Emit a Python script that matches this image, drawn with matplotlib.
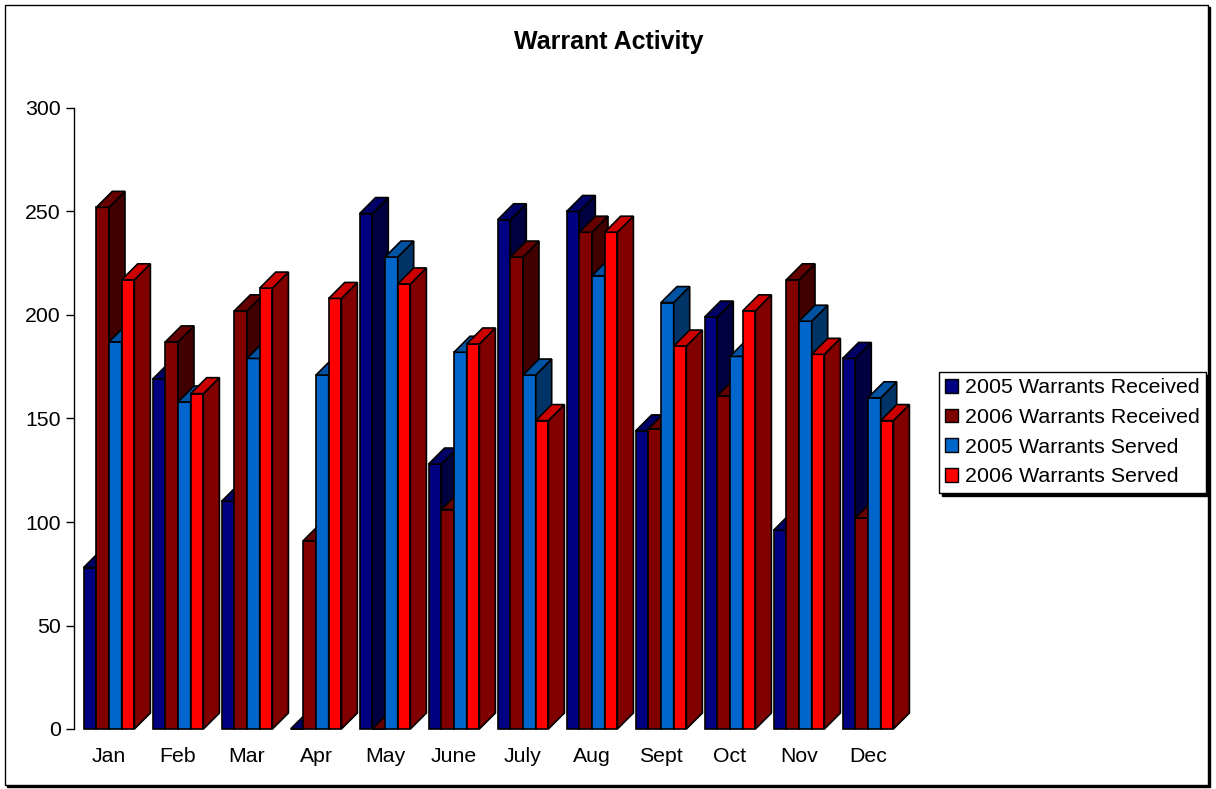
import matplotlib
matplotlib.use('Agg')
import matplotlib.pyplot as plt
import numpy as np
from matplotlib.patches import Polygon, Patch, Rectangle

# Datos
meses = ['Jan', 'Feb', 'Mar', 'Apr', 'May', 'June', 'July', 'Aug', 'Sept', 'Oct', 'Nov', 'Dec']
recibidas_2005 = [78, 169, 110, 0, 249, 128, 246, 250, 144, 199, 96, 179]
recibidas_2006 = [252, 187, 202, 91, 0, 106, 228, 240, 145, 161, 217, 102]
servidas_2005 = [187, 158, 179, 171, 228, 182, 171, 219, 206, 180, 197, 160]
servidas_2006 = [217, 162, 213, 208, 215, 186, 149, 240, 185, 202, 181, 149]
ticks_y = [0, 50, 100, 150, 200, 250, 300]

series = [
    ('2005 Warrants Received', recibidas_2005),
    ('2006 Warrants Received', recibidas_2006),
    ('2005 Warrants Served', servidas_2005),
    ('2006 Warrants Served', servidas_2006),
]
# colores (frente, arriba, costado)
colores = [
    ('#000080', '#000066', '#000040'),
    ('#800000', '#660000', '#400000'),
    ('#0066CC', '#0052A3', '#003366'),
    ('#FF0000', '#CC0000', '#800000'),
]

plt.rcParams['font.family'] = ['Liberation Sans', 'DejaVu Sans']

W, H = 1216, 789
fig = plt.figure(figsize=(W / 100, H / 100), dpi=100)

# Marco exterior con sombra
fig.patches.append(Rectangle((7 / W, 2 / H), 1203 / W, 780 / H, transform=fig.transFigure,
                             facecolor='black', edgecolor='black', zorder=-11))
fig.patches.append(Rectangle((5 / W, 4 / H), 1203 / W, 780 / H, transform=fig.transFigure,
                             facecolor='white', edgecolor='black', lw=1.0, zorder=-10))

# Ejes: 69 px por mes, 2.07 px por unidad
px_mes = 69.0
px_val = 621 / 300
x_min = -35 / px_mes
ax = fig.add_axes([74 / W, 60 / H, 846 / W, 621 / H])
ax.set_facecolor('none')
ax.set_xlim(x_min, x_min + 846 / px_mes)
ax.set_ylim(0, 300)

ancho = 12.7 / px_mes
dx = 16 / px_mes
dy = 16 / px_val
desplaz = (np.arange(4) - 1.5) * ancho
x = np.arange(len(meses))
borde = 1.2

z = 2
for i in range(len(meses)):
    for k, (nombre, valores) in enumerate(series):
        frente, arriba, costado = colores[k]
        x0 = x[i] + desplaz[k] - ancho / 2
        x1 = x0 + ancho
        h = valores[i]
        ax.bar(x0, h, width=ancho, align='edge', color=frente, edgecolor='black',
               lw=borde, zorder=z, clip_on=False)
        ax.add_patch(Polygon([(x1, 0), (x1 + dx, dy), (x1 + dx, h + dy), (x1, h)],
                             closed=True, facecolor=costado, edgecolor='black', lw=borde,
                             zorder=z + 0.1, clip_on=False))
        ax.add_patch(Polygon([(x0, h), (x1, h), (x1 + dx, h + dy), (x0 + dx, h + dy)],
                             closed=True, facecolor=arriba, edgecolor='black', lw=borde,
                             zorder=z + 0.2, clip_on=False))
        z += 1

for lado in ['top', 'right', 'bottom']:
    ax.spines[lado].set_visible(False)
ax.spines['left'].set_linewidth(1.0)
ax.spines['left'].set_color('black')

ax.set_yticks(ticks_y)
ax.tick_params(axis='y', direction='out', length=5.8, width=1.0, pad=3.6, labelsize=15.3)
ax.set_xticks(x, meses)
ax.tick_params(axis='x', length=0, pad=13, labelsize=15.3)

fig.text(609 / W, 1 - 42 / H, 'Warrant Activity', ha='center', va='center',
         fontsize=18, fontweight='bold')

# Leyenda
manijas = [Patch(facecolor=c[0], edgecolor='black', lw=1.0) for c in colores]
fig.legend(manijas, [s[0] for s in series], loc='upper left',
           bbox_to_anchor=(939 / W, 1 - 372 / H), borderaxespad=0, fontsize=15.4,
           frameon=True, fancybox=False, edgecolor='black', framealpha=1,
           shadow={'color': 'black', 'alpha': 1},
           handlelength=0.6, handleheight=0.6, handletextpad=0.3,
           labelspacing=0.5, borderpad=0.3)

plt.savefig('out.png', dpi=100)
plt.close()
